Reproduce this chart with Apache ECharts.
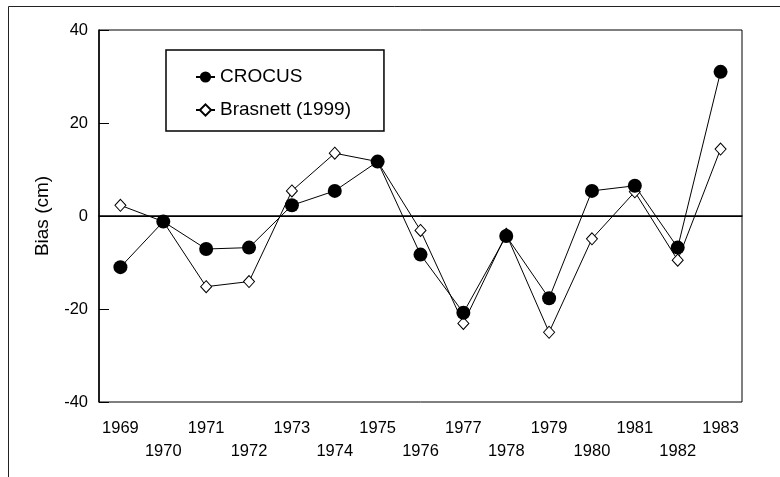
<!DOCTYPE html>
<html>
<head>
<meta charset="utf-8">
<script src="https://cdn.jsdelivr.net/npm/echarts@6/dist/echarts.min.js"></script>
<style>html,body{margin:0;padding:0;background:#fff}#c{width:780px;height:477px}</style>
</head>
<body>
<div id="c"></div>
<script>
var years = ['1969','1970','1971','1972','1973','1974','1975','1976','1977','1978','1979','1980','1981','1982','1983'];
var crocus = [-11.0, -1.2, -7.1, -6.8, 2.3, 5.4, 11.7, -8.3, -20.8, -4.3, -17.7, 5.4, 6.5, -6.8, 31.0];
var brasnett = [2.3, -1.2, -15.2, -14.1, 5.4, 13.5, 11.7, -3.1, -23.1, -3.9, -25.0, -4.9, 5.2, -9.5, 14.4];
var yTicks = [-40, -20, 0, 20, 40];

var chart = echarts.init(document.getElementById('c'), null, {renderer: 'canvas'});
var font = 'Liberation Sans, Arial, sans-serif';
chart.setOption({
  animation: false,
  backgroundColor: '#fff',
  graphic: [{
    type: 'rect', left: 6, top: 4, silent: true,
    shape: {width: 800, height: 500},
    style: {fill: 'none', stroke: '#222', lineWidth: 1}
  }],
  grid: {left: 99, right: 38, top: 30, bottom: 75, show: true, borderColor: '#000', borderWidth: 1, backgroundColor: 'transparent'},
  legend: {
    orient: 'vertical', left: 166, top: 50,
    padding: [17, 33, 11, 29], itemGap: 13,
    itemWidth: 19, itemHeight: 14,
    borderColor: '#000', borderWidth: 1.5,
    textStyle: {fontFamily: font, fontSize: 19, lineHeight: 20, color: '#000'},
    data: ['CROCUS', 'Brasnett (1999)']
  },
  xAxis: {
    type: 'category', data: years, boundaryGap: true,
    axisLine: {lineStyle: {color: '#000', width: 1.5}},
    axisTick: {inside: true, length: 9, alignWithLabel: true, lineStyle: {color: '#000'}},
    axisLabel: {
      interval: 0, margin: 15, fontFamily: font, fontSize: 16.5, color: '#000', lineHeight: 23,
      formatter: function (v, i) { return i % 2 ? '\n' + v : v; }
    },
    splitLine: {show: false}
  },
  yAxis: {
    type: 'value', min: yTicks[0], max: yTicks[yTicks.length - 1], interval: 20,
    name: 'Bias (cm)', nameLocation: 'middle', nameRotate: 90, nameGap: 47,
    nameTextStyle: {fontFamily: font, fontSize: 19, color: '#000'},
    axisLine: {show: true, lineStyle: {color: '#000', width: 1.5}},
    axisTick: {show: true, inside: true, length: 10, lineStyle: {color: '#000'}},
    axisLabel: {margin: 11, fontFamily: font, fontSize: 16.5, color: '#000'},
    splitLine: {show: false}
  },
  series: [{
    name: 'Brasnett (1999)', type: 'line', data: brasnett, z: 2,
    symbol: 'diamond', symbolSize: [11, 12],
    lineStyle: {color: '#000', width: 1},
    itemStyle: {color: '#fff', borderColor: '#000', borderWidth: 1},
    markLine: {
      silent: true, symbol: 'none', label: {show: false},
      lineStyle: {color: '#000', width: 1, type: 'solid'},
      data: [{yAxis: 0}]
    }
  }, {
    name: 'CROCUS', type: 'line', data: crocus, z: 3,
    symbol: 'circle', symbolSize: 14,
    lineStyle: {color: '#000', width: 1},
    itemStyle: {color: '#000', borderColor: '#000', borderWidth: 0}
  }]
});
</script>
</body>
</html>
